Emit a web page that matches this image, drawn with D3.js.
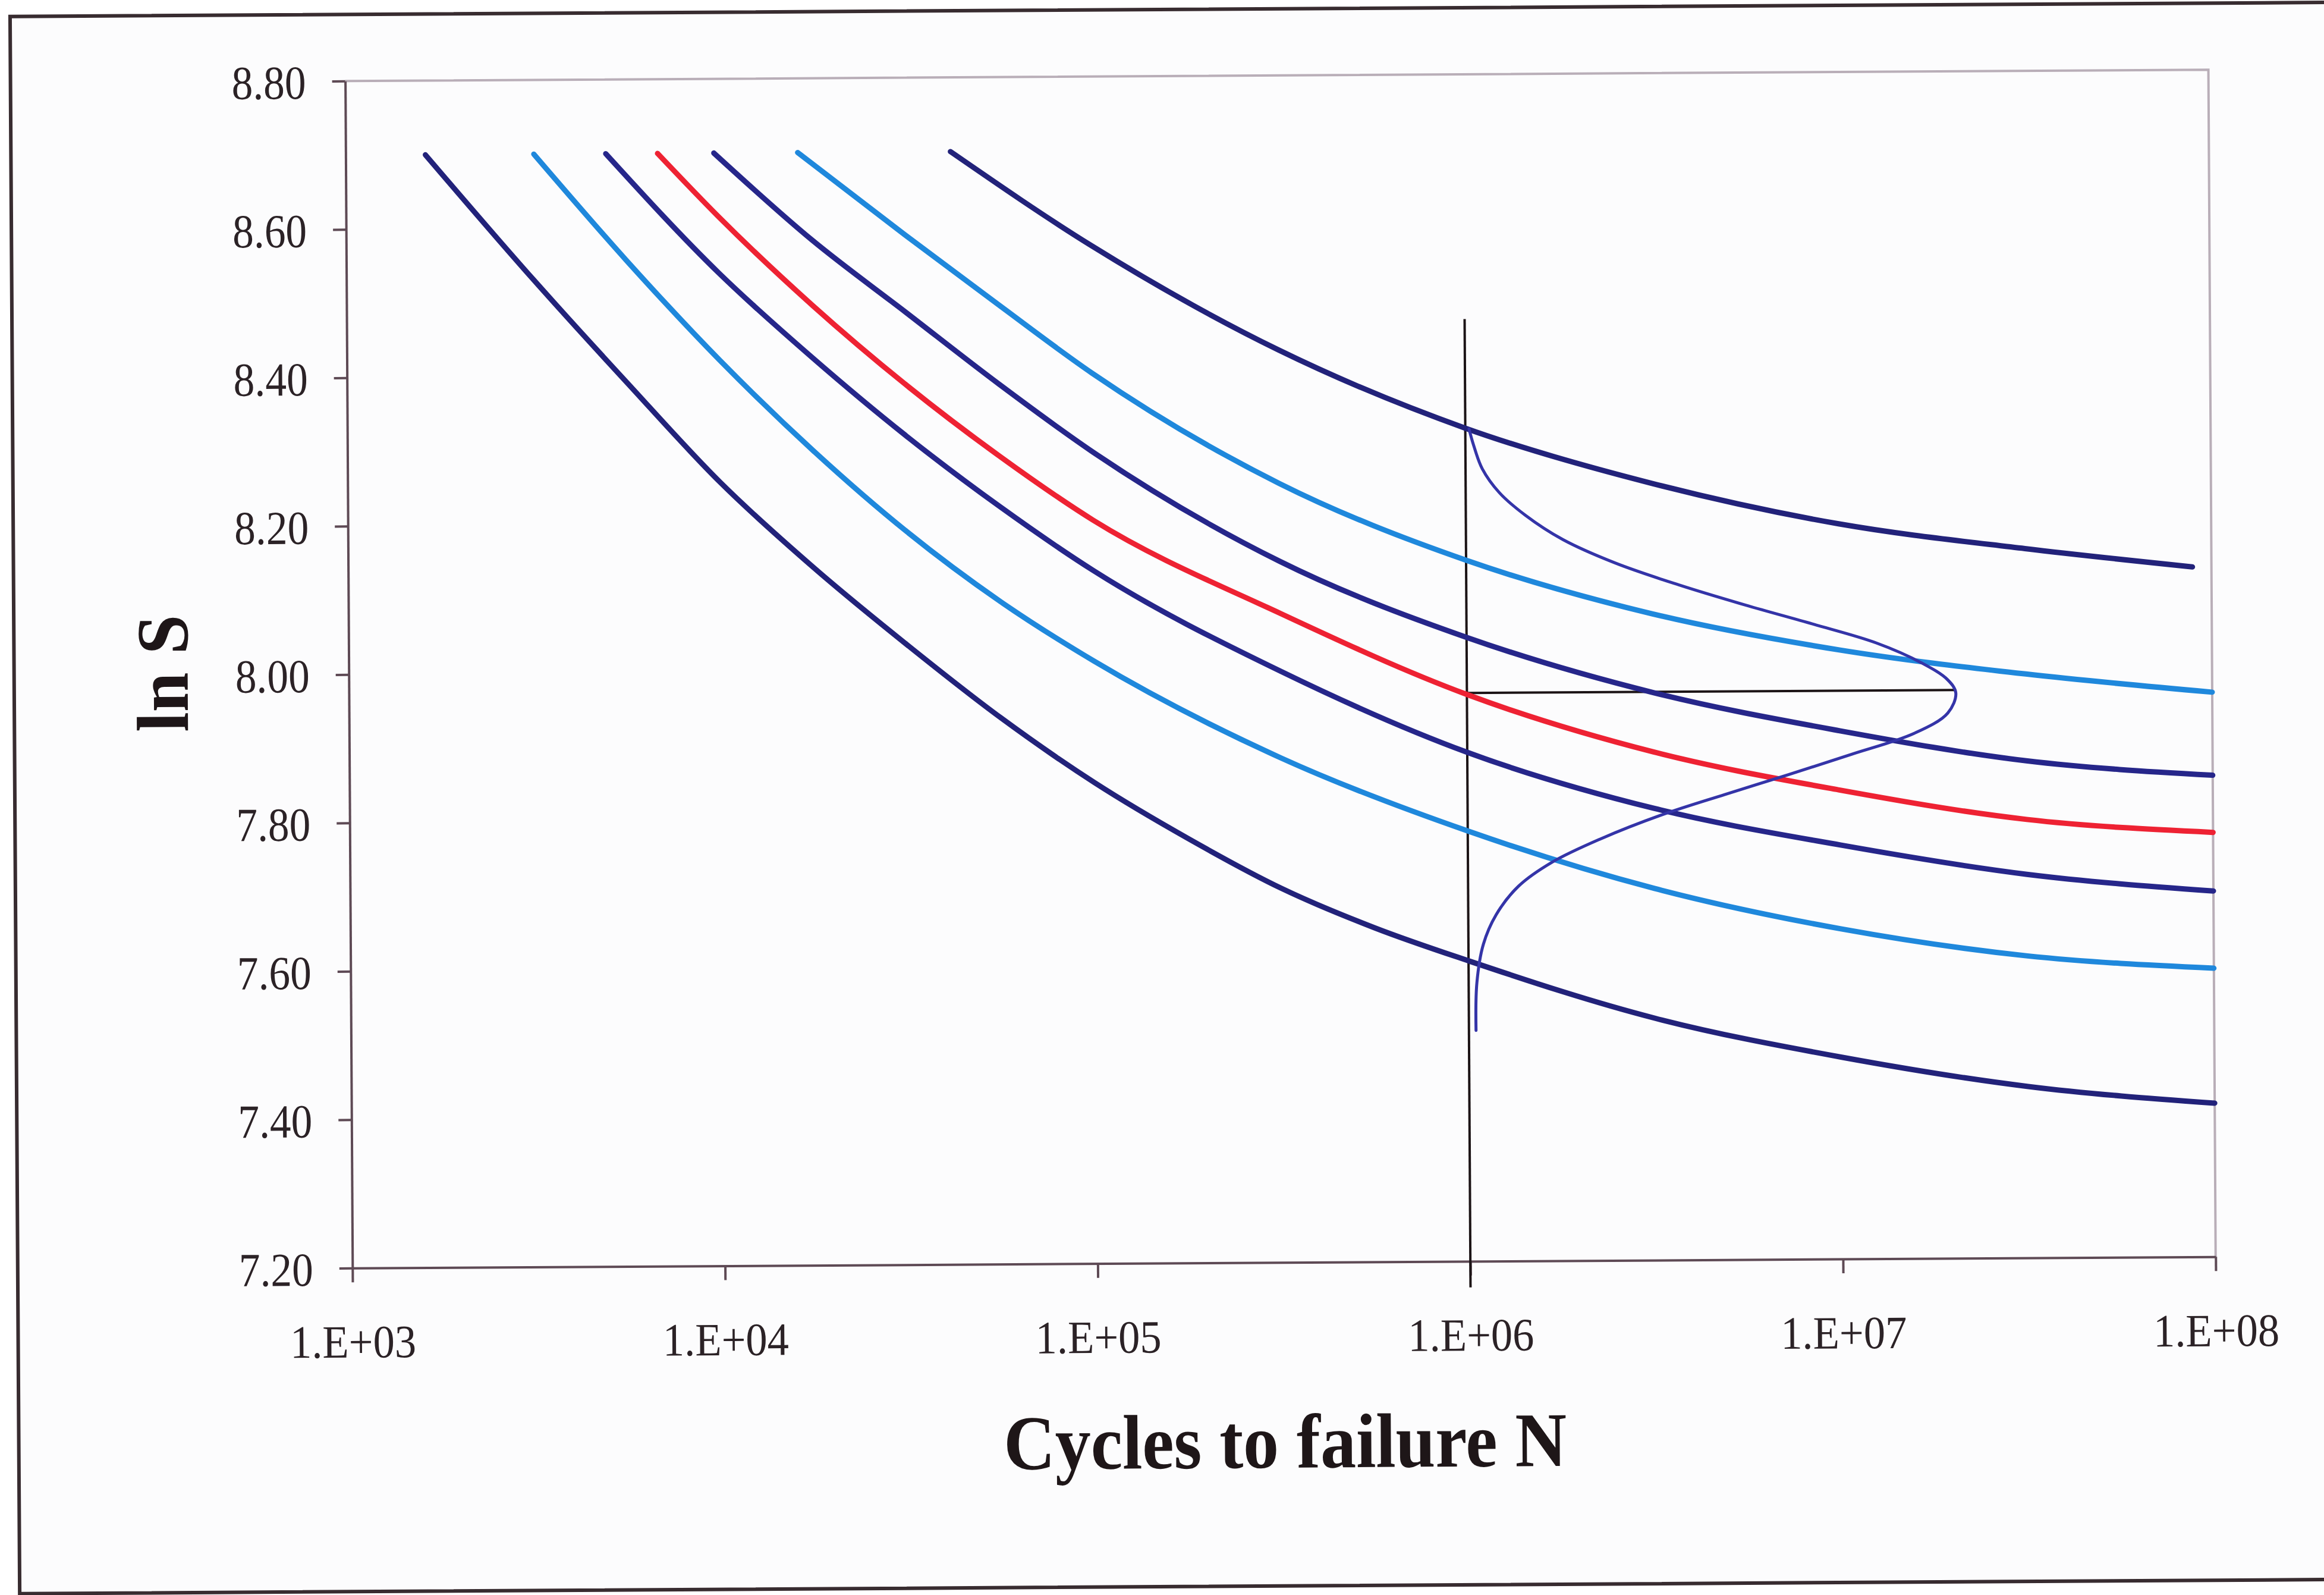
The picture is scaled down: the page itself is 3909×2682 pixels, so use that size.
<!DOCTYPE html>
<html>
<head>
<meta charset="utf-8">
<script src="https://cdn.jsdelivr.net/npm/d3@7"></script>
<style>
html,body{margin:0;padding:0;background:#ffffff;}
svg{display:block;}
</style>
</head>
<body>
<script>
// ---------------- DATA ----------------
// Each S-N curve point: [log10(N), ln S]
const yTicks = [7.20, 7.40, 7.60, 7.80, 8.00, 8.20, 8.40, 8.60, 8.80];
const xTicks = [1e3, 1e4, 1e5, 1e6, 1e7, 1e8];
const xTickLabels = ["1.E+03", "1.E+04", "1.E+05", "1.E+06", "1.E+07", "1.E+08"];
const xTitle = "Cycles to failure N";
const yTitle = "ln S";

const curve1 = [[3.214,8.70],[3.5,8.532],[3.75,8.392],[4.0,8.256],[4.25,8.140],[4.5,8.035],[4.75,7.936],[5.0,7.848],[5.25,7.772],[5.5,7.704],[5.75,7.650],[6.0,7.605],[6.5,7.526],[7.0,7.472],[7.5,7.431],[8.0,7.407]];
const curve2 = [[3.505,8.70],[3.75,8.557],[4.0,8.421],[4.25,8.298],[4.5,8.188],[4.75,8.093],[5.0,8.012],[5.5,7.880],[6.0,7.780],[6.5,7.701],[7.0,7.645],[7.5,7.607],[8.0,7.589]];
const curve3 = [[3.698,8.70],[4.0,8.538],[4.25,8.423],[4.5,8.317],[4.75,8.221],[5.0,8.134],[5.5,7.997],[6.0,7.886],[6.5,7.809],[7.0,7.758],[7.5,7.717],[8.0,7.693]];
const curveMedian = [[3.837,8.70],[4.0,8.614],[4.25,8.494],[4.5,8.386],[4.75,8.289],[5.0,8.202],[5.5,8.075],[6.0,7.964],[6.5,7.885],[7.0,7.832],[7.5,7.791],[8.0,7.772]];
const curve5 = [[3.988,8.70],[4.25,8.582],[4.5,8.484],[4.75,8.386],[5.0,8.294],[5.5,8.145],[6.0,8.041],[6.5,7.965],[7.0,7.912],[7.5,7.870],[8.0,7.849]];
const curve6 = [[4.213,8.70],[4.5,8.588],[4.75,8.493],[5.0,8.400],[5.5,8.250],[6.0,8.145],[6.5,8.071],[7.0,8.021],[7.5,7.987],[8.0,7.961]];
const curve7 = [[4.623,8.70],[5.0,8.572],[5.5,8.430],[6.0,8.323],[6.5,8.247],[7.0,8.191],[7.5,8.156],[7.949,8.130]];

const seriesNames = ["q1","q2","q3","median","q5","q6","q7"];
const seriesData = [curve1, curve2, curve3, curveMedian, curve5, curve6, curve7];
const seriesColors = ["#22227a","#1f88dc","#26268a","#ee2233","#26268a","#1f88dc","#22227a"];

// distribution of ln S at N = 1E6, drawn sideways: [log10(N), ln S]
const density = [[6.010,8.322],[6.022,8.300],[6.045,8.268],[6.090,8.236],[6.160,8.205],[6.260,8.172],[6.400,8.140],[6.570,8.110],[6.750,8.082],[6.930,8.056],[7.100,8.030],[7.220,8.003],[7.290,7.980],[7.312,7.962],[7.290,7.935],[7.200,7.908],[7.030,7.880],[6.860,7.853],[6.690,7.827],[6.520,7.800],[6.355,7.768],[6.225,7.737],[6.135,7.705],[6.075,7.667],[6.040,7.627],[6.022,7.575],[6.019,7.511]];
const markerN = 1e6;        // vertical reference line
const markerTopLnS = 8.47;  // top of vertical line
const meanLnS = 7.966;      // horizontal line level
const peakLogN = 7.312;     // end of horizontal line

// ---------------- LAYOUT ----------------
const W = 3909, H = 2682;
const L = 588, R = 3722, T = 128, B = 2124;
const serif = "'Liberation Serif','Times New Roman',Times,serif";

const svg = d3.select("body").append("svg").attr("width", W).attr("height", H);
svg.append("rect").attr("width", W).attr("height", H).attr("fill", "#ffffff");

const g = svg.append("g").attr("transform", "rotate(-0.35,1955,1341)");

// outer chart frame
g.append("rect").attr("x", 25).attr("y", 16).attr("width", 3960).attr("height", 2652)
  .attr("fill", "#fcfcfd").attr("stroke", "#382c30").attr("stroke-width", 6);

const x = d3.scaleLog().domain([1e3, 1e8]).range([L, R]);
const y = d3.scaleLinear().domain([7.2, 8.8]).range([B, T]);

// plot-area border (top / right)
g.append("path").attr("d", `M${L},${T}H${R}V${B}`)
  .attr("fill", "none").attr("stroke", "#b9aeb8").attr("stroke-width", 4);

// axes
const axisColor = "#5e4a55";
const yAxis = d3.axisLeft(y).tickValues(yTicks).tickFormat(d3.format(".2f"))
  .tickSize(22).tickSizeOuter(0).tickPadding(44);
const gy = g.append("g").attr("transform", `translate(${L},0)`).call(yAxis);
gy.select(".domain").attr("stroke", axisColor).attr("stroke-width", 4);
gy.selectAll(".tick line").attr("stroke", axisColor).attr("stroke-width", 4);
gy.selectAll(".tick text")
  .attr("font-family", serif).attr("font-size", 80).attr("fill", "#2b2226")
  .attr("dy", "0.36em").attr("textLength", 125).attr("lengthAdjust", "spacingAndGlyphs");

const xAxis = d3.axisBottom(x).tickValues(xTicks).tickFormat((d, i) => xTickLabels[i])
  .tickSize(24).tickSizeOuter(0).tickPadding(71);
const gx = g.append("g").attr("transform", `translate(0,${B})`).call(xAxis);
gx.select(".domain").attr("stroke", axisColor).attr("stroke-width", 4);
gx.selectAll(".tick line").attr("stroke", axisColor).attr("stroke-width", 4);
gx.selectAll(".tick text")
  .attr("font-family", serif).attr("font-size", 78).attr("fill", "#2b2226")
  .attr("textLength", 212).attr("lengthAdjust", "spacingAndGlyphs");

// axis titles
g.append("text").attr("x", (L + R) / 2).attr("y", 2469)
  .attr("text-anchor", "middle").attr("font-family", serif).attr("font-weight", "bold")
  .attr("font-size", 130).attr("fill", "#1e1618")
  .attr("textLength", 947).attr("lengthAdjust", "spacingAndGlyphs")
  .text(xTitle);
g.append("text").attr("transform", "translate(317,1122) rotate(-90)")
  .attr("text-anchor", "middle").attr("font-family", serif).attr("font-weight", "bold")
  .attr("font-size", 124).attr("fill", "#1e1618")
  .attr("textLength", 197).attr("lengthAdjust", "spacingAndGlyphs")
  .text(yTitle);

// reference lines
g.append("line")
  .attr("x1", x(markerN)).attr("x2", x(markerN))
  .attr("y1", y(markerTopLnS)).attr("y2", y(7.2) + 44)
  .attr("stroke", "#1c1416").attr("stroke-width", 4);
g.append("line")
  .attr("x1", x(markerN)).attr("x2", x(10 ** peakLogN))
  .attr("y1", y(meanLnS)).attr("y2", y(meanLnS))
  .attr("stroke", "#1c1416").attr("stroke-width", 4);

// S-N curves
const line = d3.line().x(d => x(10 ** d[0])).y(d => y(d[1])).curve(d3.curveMonotoneX);
g.append("g").selectAll("path").data(seriesData).join("path")
  .attr("d", line)
  .attr("fill", "none")
  .attr("stroke", (d, i) => seriesColors[i])
  .attr("stroke-width", 9)
  .attr("stroke-linejoin", "round")
  .attr("stroke-linecap", "round");

// sideways density
const dline = d3.line().x(d => x(10 ** d[0])).y(d => y(d[1])).curve(d3.curveCatmullRom);
g.append("path").datum(density).attr("d", dline)
  .attr("fill", "none").attr("stroke", "#3434a8").attr("stroke-width", 5)
  .attr("stroke-linejoin", "round").attr("stroke-linecap", "round");
</script>
</body>
</html>
